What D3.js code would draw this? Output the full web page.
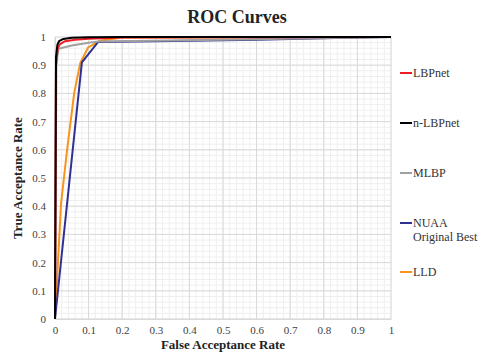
<!DOCTYPE html>
<html><head><meta charset="utf-8">
<script src="https://cdn.jsdelivr.net/npm/d3@7"></script>
<style>body{margin:0;background:#fff}svg{display:block}</style>
</head><body>
<svg id="c" width="482" height="353"></svg>
<script>
const seriesNames = ["LBPnet", "n-LBPnet", "MLBP", "NUAA\nOriginal Best", "LLD"];
const seriesColors = ["#ee1c25", "#000000", "#a0a0a0", "#2e3192", "#f7941d"];
const lbpnetX = [0, 0.003, 0.008, 0.015, 0.03, 0.06, 0.1, 0.2, 1];
const lbpnetY = [0, 0.9, 0.96, 0.975, 0.985, 0.99, 0.994, 0.998, 1];
const nlbpnetX = [0, 0.003, 0.007, 0.012, 0.025, 0.05, 0.1, 0.2, 1];
const nlbpnetY = [0, 0.93, 0.972, 0.985, 0.993, 0.997, 0.999, 1, 1];
const mlbpX = [0, 0.004, 0.01, 0.05, 0.1, 0.13, 0.5, 1];
const mlbpY = [0, 0.9, 0.958, 0.97, 0.98, 0.984, 0.99, 1];
const nuaaX = [0, 0.08, 0.128, 0.3, 0.6, 0.9, 1];
const nuaaY = [0, 0.91, 0.982, 0.985, 0.99, 0.998, 1];
const lldX = [0, 0.018, 0.036, 0.057, 0.075, 0.098, 0.134, 0.2, 1];
const lldY = [0, 0.41, 0.6, 0.8, 0.907, 0.962, 0.987, 0.998, 1];
const xTicks = [0, 0.1, 0.2, 0.3, 0.4, 0.5, 0.6, 0.7, 0.8, 0.9, 1];
const yTicks = [0, 0.1, 0.2, 0.3, 0.4, 0.5, 0.6, 0.7, 0.8, 0.9, 1];

const seriesX = [lbpnetX, nlbpnetX, mlbpX, nuaaX, lldX];
const seriesY = [lbpnetY, nlbpnetY, mlbpY, nuaaY, lldY];
const drawOrder = [4, 3, 2, 0, 1];

const svg = d3.select("#c");
const L = 55, R = 391, T = 37, B = 319;
const x = d3.scaleLinear().domain([0, 1]).range([L, R]);
const y = d3.scaleLinear().domain([0, 1]).range([B, T]);
const font = "Liberation Serif";

// minor grid
const minor = d3.range(0, 1.0001, 0.02);
svg.append("g").selectAll("line").data(minor).join("line")
  .attr("x1", d => x(d)).attr("x2", d => x(d)).attr("y1", T).attr("y2", B)
  .attr("stroke", "#efefef").attr("stroke-width", 1);
svg.append("g").selectAll("line").data(minor).join("line")
  .attr("x1", L).attr("x2", R).attr("y1", d => y(d)).attr("y2", d => y(d))
  .attr("stroke", "#efefef").attr("stroke-width", 1);
// major grid
svg.append("g").selectAll("line").data(xTicks).join("line")
  .attr("x1", d => x(d)).attr("x2", d => x(d)).attr("y1", T).attr("y2", B)
  .attr("stroke", "#d9d9d9").attr("stroke-width", 1);
svg.append("g").selectAll("line").data(yTicks).join("line")
  .attr("x1", L).attr("x2", R).attr("y1", d => y(d)).attr("y2", d => y(d))
  .attr("stroke", "#d9d9d9").attr("stroke-width", 1);

// axes
const xa = svg.append("g").attr("transform", `translate(0,${B})`)
  .call(d3.axisBottom(x).tickValues(xTicks).tickSize(0).tickPadding(7).tickFormat(d3.format("")));
xa.attr("font-family", font).attr("font-size", 11);
xa.select(".domain").attr("stroke", "#d9d9d9");
xa.selectAll("text").attr("fill", "#404040");
const ya = svg.append("g").attr("transform", `translate(${L},0)`)
  .call(d3.axisLeft(y).tickValues(yTicks).tickSize(0).tickPadding(9).tickFormat(d3.format("")));
ya.attr("font-family", font).attr("font-size", 11);
ya.select(".domain").attr("stroke", "#d9d9d9");
ya.selectAll("text").attr("fill", "#404040");

// lines
const line = d3.line().x(d => x(d[0])).y(d => y(d[1]));
drawOrder.forEach(i => {
  const pts = seriesX[i].map((v, k) => [v, seriesY[i][k]]);
  svg.append("path").datum(pts).attr("d", line).attr("fill", "none")
    .attr("stroke", seriesColors[i]).attr("stroke-width", 2).attr("stroke-linejoin", "round");
});

// title
svg.append("text").attr("x", 237).attr("y", 23).attr("text-anchor", "middle")
  .attr("font-family", font).attr("font-weight", "bold").attr("font-size", 18).attr("fill", "#222")
  .text("ROC Curves");
svg.append("text").attr("x", 223).attr("y", 349).attr("text-anchor", "middle")
  .attr("font-family", font).attr("font-weight", "bold").attr("font-size", 13).attr("fill", "#222")
  .text("False Acceptance Rate");
svg.append("text").attr("transform", `translate(22,178) rotate(-90)`).attr("text-anchor", "middle")
  .attr("font-family", font).attr("font-weight", "bold").attr("font-size", 13).attr("fill", "#222")
  .text("True Acceptance Rate");

// legend
const legY = [73, 123, 173, 223, 272];
seriesNames.forEach((name, i) => {
  const g = svg.append("g");
  g.append("line").attr("x1", 400).attr("x2", 412).attr("y1", legY[i]).attr("y2", legY[i])
    .attr("stroke", seriesColors[i]).attr("stroke-width", 2);
  const t = g.append("text").attr("font-family", font).attr("font-size", 12).attr("fill", "#333");
  name.split("\n").forEach((s, k) => {
    t.append("tspan").attr("x", 413).attr("y", legY[i] + 4 + k * 14).text(s);
  });
});
</script>
</body></html>
